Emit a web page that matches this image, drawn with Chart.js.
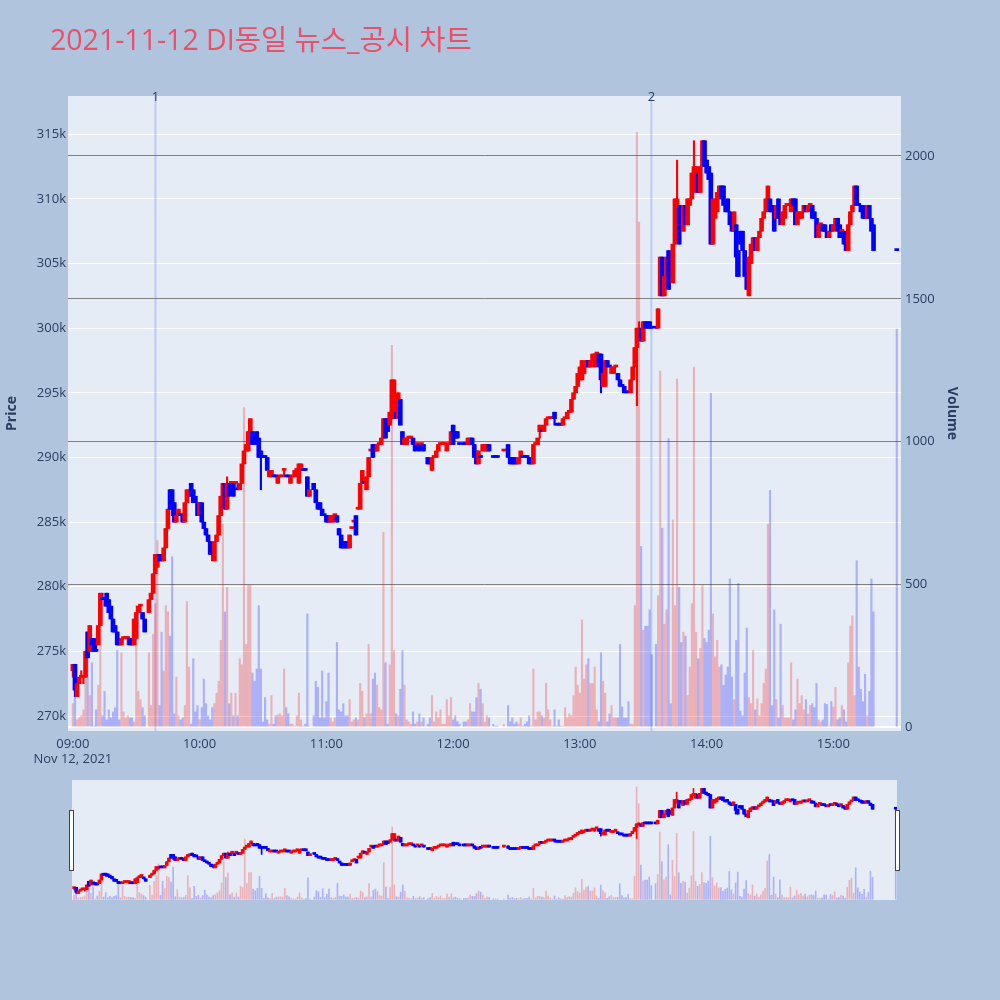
<!DOCTYPE html>
<html>
<head>
<meta charset="utf-8">
<script src="https://cdn.jsdelivr.net/npm/chart.js@4.4.0/dist/chart.umd.min.js"></script>
<style>
  body { margin: 0; width: 1000px; height: 1000px; background: #b0c4de; position: relative; overflow: hidden;
         font-family: "Open Sans", "Noto Sans CJK KR", sans-serif; }
  #main { position: absolute; left: 0; top: 0; }
  #slider { position: absolute; left: 72px; top: 780px; background: #e5ecf6; }
  #title { position: absolute; left: 50px; top: 25px; font-size: 28.5px; line-height: 28.5px; color: #eb5069; white-space: nowrap; }
  .handle { position: absolute; top: 810px; width: 3px; height: 59px; background: #fff; border: 1px solid #444; }
</style>
</head>
<body>
<canvas id="main" width="1000" height="780"></canvas>
<canvas id="slider" width="825" height="120"></canvas>
<div class="handle" style="left:69px"></div>
<div class="handle" style="left:895px"></div>
<div id="title">2021-11-12 DI동일 뉴스_공시 차트</div>
<script>
// 1분봉 (가격 단위: 천원)
const times = [
  '09:00','09:01','09:02','09:03','09:04','09:05','09:06','09:07','09:08','09:09',
  '09:10','09:11','09:12','09:13','09:14','09:15','09:16','09:17','09:18','09:19',
  '09:20','09:21','09:22','09:23','09:24','09:25','09:26','09:27','09:28','09:29',
  '09:30','09:31','09:32','09:33','09:34','09:36','09:37','09:38','09:39',
  '09:40','09:41','09:42','09:43','09:44','09:45','09:46','09:47','09:48','09:49',
  '09:50','09:51','09:52','09:53','09:54','09:55','09:56','09:57','09:58','09:59',
  '10:00','10:01','10:02','10:03','10:04','10:05','10:06','10:07','10:08','10:09',
  '10:10','10:11','10:12','10:13','10:14','10:15','10:16','10:17','10:18','10:19',
  '10:20','10:21','10:22','10:23','10:24','10:25','10:26','10:27','10:28','10:29',
  '10:30','10:31','10:32','10:33','10:34','10:35','10:36','10:37','10:38','10:39',
  '10:40','10:41','10:42','10:43','10:44','10:45','10:46','10:47','10:48','10:49',
  '10:50','10:51','10:52','10:54','10:55','10:56','10:57','10:58','10:59',
  '11:00','11:01','11:02','11:03','11:04','11:05','11:06','11:07','11:08','11:09',
  '11:10','11:11','11:12','11:13','11:14','11:15','11:16','11:17','11:18','11:19',
  '11:20','11:21','11:22','11:23','11:24','11:25','11:26','11:27','11:28','11:29',
  '11:30','11:31','11:32','11:33','11:34','11:35','11:36','11:37','11:38','11:39',
  '11:40','11:41','11:42','11:43','11:44','11:45','11:46','11:48','11:49',
  '11:50','11:51','11:52','11:53','11:54','11:55','11:56','11:57','11:58','11:59',
  '12:00','12:01','12:02','12:03','12:05','12:06','12:07','12:08','12:09',
  '12:10','12:11','12:12','12:13','12:14','12:15','12:16','12:17','12:19',
  '12:20','12:21','12:24','12:26','12:27','12:28','12:29',
  '12:30','12:31','12:32','12:33','12:34','12:35','12:36','12:37','12:38','12:39',
  '12:40','12:41','12:42','12:43','12:44','12:45','12:46','12:47','12:48','12:49',
  '12:50','12:51','12:52','12:53','12:54','12:55','12:56','12:57','12:58','12:59',
  '13:00','13:01','13:02','13:03','13:04','13:05','13:06','13:07','13:08','13:09',
  '13:10','13:11','13:12','13:13','13:14','13:15','13:16','13:17','13:18','13:19',
  '13:20','13:21','13:22','13:23','13:24','13:25','13:26','13:27','13:28','13:29',
  '13:30','13:31','13:32','13:33','13:34','13:36','13:37','13:38','13:39',
  '13:40','13:41','13:42','13:43','13:44','13:45','13:46','13:47','13:48','13:49',
  '13:50','13:51','13:52','13:53','13:54','13:55','13:56','13:57','13:58','13:59',
  '14:00','14:01','14:02','14:03','14:04','14:05','14:06','14:07','14:08','14:09',
  '14:10','14:11','14:12','14:13','14:14','14:15','14:16','14:17','14:18','14:19',
  '14:20','14:21','14:22','14:23','14:24','14:25','14:26','14:27','14:28','14:29',
  '14:30','14:31','14:32','14:33','14:34','14:35','14:36','14:37','14:38','14:39',
  '14:40','14:41','14:42','14:43','14:44','14:45','14:46','14:47','14:48','14:49',
  '14:50','14:51','14:52','14:53','14:54','14:55','14:56','14:57','14:58','14:59',
  '15:00','15:01','15:02','15:03','15:04','15:05','15:06','15:07','15:08','15:09',
  '15:10','15:11','15:12','15:13','15:14','15:15','15:16','15:17','15:18','15:19','15:30'
];
const opens = [
  273.5,274,271.5,272.5,273,273,273,276.5,275,276,
  276,275,275.5,277,279,279,279.5,279,278.5,277.5,
  277,276.5,276,275.5,276,276,276,276,276,275.5,
  276,278,278.5,278,277.5,278,279,279.5,281,
  281.5,282.5,282.5,282,283,284.5,287.5,287.5,286.5,285,
  285.5,285.5,285.5,285,286.5,287,288,287.5,287,286.5,
  285.5,286.5,285,284.5,284,283.5,283,282,283.5,284,
  285.5,287,288,286,288,288,288,288,287.5,287.5,
  288,289.5,290.5,290.5,292,292,291.5,292,291.5,290.5,
  290,290,290,288.5,288.5,288.5,288.5,288,288.5,288.5,
  289,288.5,288.5,288,288.5,288.5,289,288,289,289,
  289,288.5,287,288,287.5,286.5,286.5,286,285.5,
  285.5,285.5,285,285,285.5,285.5,284.5,284,283.5,283.5,
  283,283,284.5,285,285.5,286,286,288,288,287.5,
  288.5,290.5,291,291,290.5,291,291,291.5,293,293,
  292.5,293.5,293,293.5,293,294.5,292,291,291,291.5,
  291.5,291.5,291,291,291,291,291,290,289.5,
  289,290,290,290.5,291,291,291,290.5,291,291,
  292.5,292,292,291,291,291,291,291,291.5,
  291,290.5,289.5,290,290.5,290.5,290.5,291,290,
  290,290,290.5,291,290,290,290,
  289.5,289.5,290,290,290,290,290,289.5,289.5,291,
  291,292,292,292,292.5,293,293,293,293.5,292.5,
  292.5,292.5,292.5,293,293,293.5,293.5,294.5,295,295.5,
  296,296,296.5,297,297.5,297,297.5,297,298,298,
  298,295.5,295.5,297.5,297,296.5,296.5,297,296.5,296,
  295.5,295.5,295,295,295,296,297,298.5,299.5,300,
  299,300.5,300.5,300.5,300,300,300,302.5,305.5,
  302.5,304,306,305.5,303.5,306.5,308.5,309.5,309.5,307.5,
  309.5,308,309.5,310,311.5,310.5,312,310.5,312.5,314.5,
  313,312.5,312,306.5,308.5,309,310,311,311,309.5,
  310,309,308.5,307.5,308,306,307.5,307.5,306,304,
  302.5,305,306,307,306,307,307.5,308.5,309,309.5,
  310,309.5,309.5,308.5,310,308.5,308,308.5,309.5,309.5,
  309,310,310,308,308.5,308.5,309,309.5,309,309.5,
  309.5,309,308.5,307,308,308,308,307.5,307,308,
  307.5,308,308.5,308,307.5,307.5,307,306,308,309,
  309.5,311,309.5,309.5,309.5,309,308.5,309.5,308.5,308,306
];
const closes = [
  274,272,272.5,273,273,273,275,274.5,277,275.5,
  275,275,277,279.5,279,279,278.5,278,277.5,276.5,
  276.5,275.5,275.5,276,276,276,276,275.5,275.5,277.5,
  278,278.5,278.5,277.5,276.5,279,279.5,281,282.5,
  282.5,282,282,283,284.5,286,286,286,285,285.5,
  286,285.5,285,286.5,287.5,287.5,287,286.5,286.5,285.5,
  286.5,285,284.5,284,283.5,282.5,282.5,283.5,284,285.5,
  287,288,286,288,287,288,287,288,287.5,288,
  289.5,290.5,291,292,293,291,291,291,290,290,
  290,290,289,289,289,288.5,288.5,288.5,288.5,288.5,
  289,288.5,288.5,288.5,288.5,289,289,289.5,289.5,289,
  289,287,287.5,287.5,286.5,286,286,285.5,285.5,
  285,285,285.5,285.5,285.5,285,284,283,283,283,
  283,284,284.5,285,284,286,288,289,288,288.5,
  290,290.5,290,290.5,291,291,291.5,293,291.5,292,
  293.5,296,296,293,295,292.5,291,291.5,291.5,291.5,
  291.5,291,290.5,291,290.5,291,290.5,289.5,289.5,
  290,290,290.5,291,291,291,291,291,291,292,
  291,291.5,291.5,291,291,291,291.5,291.5,291,
  290,289.5,290.5,290,291,291,291,290.5,290,
  290,290,290.5,290,289.5,289.5,289.5,
  289.5,290,290.5,290,290,290,289.5,289.5,291,291,
  291.5,292.5,292,292.5,293,293,293,293,293,292.5,
  292.5,292.5,293,293,293.5,293.5,294.5,295,295.5,296.5,
  297,297.5,297,297.5,297,297.5,298,298,298,297,
  296,296.5,297.5,297,297,297,297,297,296,295.5,
  295.5,295,295,295,296,297,298.5,300,300,299,
  300.5,300,300,300,300,300,301.5,305.5,302.5,
  304,305.5,303,304,306.5,310,310,306.5,308.5,309.5,
  308,310,310,312,312.5,312.5,310.5,312.5,314.5,312.5,
  312,311.5,306.5,310,310,310.5,311,310,309.5,309,
  309,308,307.5,309,305.5,304,306.5,306,304,303,
  305.5,306.5,307,306,307,307.5,308.5,309,310,311,
  309,309,307.5,309.5,308.5,308,309,309.5,309.5,309.5,
  310,309.5,308,309,309,309,309.5,309,309.5,309.5,
  308.5,308.5,307,308,308,307.5,307.5,307,307.5,307.5,
  308,308.5,307.5,307,307.5,306.5,306,308,309,309.5,
  311,309.5,309.5,309,308.5,308.5,309.5,308.5,307.5,306,306
];
const highs = [
  274,274,272.5,273,273.5,273,275,276.5,277,276,
  276,275.5,277,279.5,279.5,279,279.5,279,278.5,277.5,
  277,276.5,276,276,276,276,276,276,276,277.5,
  278,278.5,278.5,278,277.5,279,279.5,281,282.5,
  282.5,282.5,282.5,283,284.5,286,287.5,287.5,286.5,285.5,
  286,285.5,285.5,286.5,287.5,287.5,288,287.5,287,286.5,
  286.5,286.5,285,284.5,284,283.5,283,283.5,284,285.5,
  287,288,288,288.5,288,288,288,288,288,288,
  289.5,290.5,291,292,293,292,291.5,292,291.5,290.5,
  290,290,290,289,289,288.5,288.5,288.5,288.5,288.5,
  289,288.5,288.5,288.5,288.5,289,289,289.5,289.5,289,
  289,288.5,287.5,288,287.5,286.5,286.5,286,285.5,
  285.5,285.5,285.5,285.5,285.5,285.5,284.5,284,283.5,283.5,
  283.5,284,284.5,285,285.5,286,288,289,288,288.5,
  290,290.5,291,291,291,291,291.5,293,293,293,
  293.5,296,296,293.5,295,294.5,292,291.5,291.5,291.5,
  291.5,291.5,291,291,291,291,291,290,289.5,
  290,290,290.5,291,291,291,291,291,291,292,
  292.5,292,292,291,291,291,291.5,291.5,291.5,
  291,290.5,290.5,290,291,291,291,291,290,
  290,290,290.5,291,290,290,290,
  289.5,290,290.5,290,290,290,290,289.5,291,291,
  291.5,292.5,292,292.5,293,293,293,293,293.5,292.5,
  292.5,292.5,293,293,293.5,293.5,294.5,295,295.5,296.5,
  297,297.5,297,297.5,297.5,297.5,298,298,298,298,
  298,296.5,297.5,297.5,297,297,297,297,296.5,296,
  295.5,295.5,295,295,296,297,298.5,300,300.5,300,
  300.5,300.5,300.5,300.5,300,300,301.5,305.5,305.5,
  304,305.5,306,305.5,306.5,310,313,309.5,309.5,309.5,
  309.5,310,310,312,314.5,312.5,312,312.5,314.5,314.5,
  313,312.5,312,310,310,310.5,311,311,311,309.5,
  310,309,308.5,309,308,306,307.5,307.5,306,304,
  305.5,306.5,307,307,307,307.5,308.5,309,310,311,
  310,309.5,309.5,309.5,310,308.5,309,309.5,309.5,309.5,
  310,310,310,309,309,309,309.5,309.5,309.5,309.5,
  309.5,309,308.5,308,308,308,308,307.5,307.5,308,
  308,308.5,308.5,308,307.5,307.5,307,308,309,309.5,
  311,311,309.5,309.5,309.5,309,309.5,309.5,308.5,308,306
];
const lows = [
  273,271.5,271.5,272.5,273,272.5,273,274.5,275,275,
  275,275,275.5,277,279,278.5,278.5,278,277.5,276.5,
  276.5,275.5,275.5,275.5,276,276,275.5,275.5,275.5,275.5,
  276,278,278,277.5,276.5,278,279,279.5,281,
  281.5,282,282,282,283,284.5,286,285.5,285,285,
  285.5,285.5,285,285,286.5,287,287,286.5,286.5,285.5,
  285.5,285,284.5,284,283.5,282.5,282,282,283.5,284,
  285.5,287,286,286,287,288,287,288,287.5,287.5,
  288,289.5,290.5,290.5,292,291,291,291,290,287.5,
  290,290,289,288.5,288.5,288.5,288.5,288,288.5,288.5,
  288.5,288.5,288.5,288,288.5,288.5,289,288,289,289,
  289,287,287,287.5,286.5,286,286,285.5,285.5,
  285,285,285,285,285.5,285,284,283,283,283,
  283,283,284.5,285,284,286,286,288,288,287.5,
  288.5,290.5,290,290.5,290.5,291,291,291.5,291.5,292,
  292.5,293.5,293,293,293,292.5,291,291,291,291.5,
  291.5,291,290.5,291,290.5,291,290.5,289.5,289.5,
  289,290,290,290.5,291,291,291,290.5,291,291,
  291,291.5,291.5,291,291,291,291,291,291,
  290,289.5,289.5,290,290.5,290.5,290.5,290.5,290,
  290,290,290.5,290,289.5,289.5,289.5,
  289.5,289.5,290,290,290,290,289.5,289.5,289.5,291,
  291,291.5,292,292,292.5,293,293,293,292.5,292.5,
  292.5,292.5,292.5,293,293,293.5,293.5,294.5,295,295.5,
  296,296,296.5,297,297,297,297.5,297,298,297,
  295,295.5,295.5,297,297,296.5,296.5,297,296,295.5,
  295.5,295,295,295,295,296,297,294,299.5,299,
  299,300,300,300,300,300,300,302.5,302.5,
  302.5,304,303,304,303.5,306.5,308.5,306.5,308.5,307.5,
  308,308,309.5,310,311.5,310.5,310.5,310.5,312.5,312.5,
  312,311.5,306.5,306.5,308.5,309,310,310,309.5,309,
  309,308,307.5,307.5,304,304,306.5,306,304,303,
  302.5,305,306,306,306,307,307.5,308.5,309,309.5,
  309,309,307.5,308.5,308.5,308,308,308.5,309.5,309.5,
  309,309.5,308,308,308.5,308.5,309,309,309,309.5,
  308.5,308.5,307,307,308,307.5,307.5,307,307,307.5,
  307.5,308,307.5,307,307.5,306.5,306,306,308,309,
  309.5,309.5,309.5,309,308.5,308.5,308.5,308.5,307.5,306,306
];
const volumes = [
  83,111,26,33,40,61,269,326,111,226,
  4,61,147,440,40,126,26,61,33,54,
  69,269,26,261,54,33,40,33,33,19,
  426,126,97,69,40,261,76,326,433,
  654,76,333,197,426,404,319,597,47,176,
  40,26,33,76,440,211,11,240,54,76,
  26,69,169,83,40,26,69,83,119,161,
  304,711,404,490,83,119,40,119,40,240,
  219,1119,290,497,497,190,161,204,426,204,
  19,104,26,11,111,11,40,43,47,40,
  204,69,47,11,11,4,40,119,26,4,
  11,397,4,40,161,140,33,197,33,
  90,190,33,19,33,297,61,54,83,40,
  40,97,19,26,33,26,154,126,33,47,
  290,47,169,190,147,69,61,683,226,11,
  219,1337,269,47,40,133,269,147,26,19,
  11,54,11,19,47,19,33,11,33,
  111,19,54,33,61,11,11,97,40,104,
  26,40,20,10,19,19,26,83,54,
  54,104,154,133,83,19,40,33,10,
  4,4,10,76,20,33,11,
  19,11,33,4,11,19,40,4,204,26,
  54,54,40,33,154,61,26,4,61,4,
  26,4,4,69,33,47,40,111,211,147,
  119,376,169,219,240,154,154,211,61,19,
  261,161,119,19,47,76,33,33,33,290,
  71,33,33,90,11,11,426,2083,1769,633,
  340,354,354,411,254,290,461,1247,697,
  361,411,1011,83,726,426,1219,490,297,333,
  319,111,211,433,1261,333,240,276,497,311,
  297,340,1169,397,247,304,211,219,147,183,
  211,519,176,97,304,504,57,40,190,347,
  104,83,269,61,100,40,83,154,204,711,
  829,76,411,97,33,361,76,33,33,33,
  226,26,61,169,83,111,61,97,47,76,
  83,69,154,26,19,26,83,80,4,90,
  71,140,26,33,76,61,19,226,354,390,
  111,583,211,133,90,186,40,126,519,404,1394
];

// 뉴스/공시 표시
const eventTimes = ['09:39:05', '13:33:50'];
const eventLabels = ['1', '2'];

// 축 눈금
const xTickLabels = ['09:00','10:00','11:00','12:00','13:00','14:00','15:00'];
const dateLabel = 'Nov 12, 2021';
const priceTicks = [270, 275, 280, 285, 290, 295, 300, 305, 310, 315];
const volumeTicks = [0, 500, 1000, 1500, 2000];

const UP = '#ff0000', DOWN = '#0000ff';
const UP_VOL = 'rgba(255,0,0,0.25)', DOWN_VOL = 'rgba(0,0,255,0.25)';
const TEXT = '#2a3f5f';
Chart.defaults.font.family = '"Open Sans", "Noto Sans CJK KR", sans-serif';

const toMin = t => {
  const [h, m, s] = t.split(':').map(Number);
  return (h - 9) * 60 + m + (s || 0) / 60;
};

// 보합봉은 직전 종가와 비교해서 색을 정함
const dirs = [];
closes.forEach((c, i) => {
  const o = opens[i];
  let d;
  if (c > o) d = 1;
  else if (c < o) d = -1;
  else if (i > 0 && c > closes[i - 1]) d = 1;
  else if (i > 0 && c < closes[i - 1]) d = -1;
  else d = i > 0 ? dirs[i - 1] : 1;
  dirs.push(d);
});
const candleColors = dirs.map(d => d > 0 ? UP : DOWN);
const volColors = dirs.map(d => d > 0 ? UP_VOL : DOWN_VOL);

const bodies = times.map((t, i) => ({ x: toMin(t), y: [opens[i], closes[i]] }));
const wicks = times.map((t, i) => ({ x: toMin(t), y: [lows[i], highs[i]] }));
const vols = times.map((t, i) => ({ x: toMin(t), y: volumes[i] }));

function makeDatasets(bodyW, wickW, volW) {
  return [
    { data: bodies, backgroundColor: candleColors, barThickness: bodyW, minBarLength: 2, yAxisID: 'y', order: 1, grouped: false },
    { data: wicks, backgroundColor: candleColors, barThickness: wickW, yAxisID: 'y', order: 2, grouped: false },
    { data: vols, backgroundColor: volColors, barThickness: volW, yAxisID: 'y1', order: 3, grouped: false }
  ];
}

const plotBg = {
  id: 'plotBg',
  beforeDraw(chart) {
    const { ctx, chartArea: a } = chart;
    ctx.save();
    ctx.fillStyle = '#e5ecf6';
    ctx.fillRect(a.left, a.top, a.right - a.left, a.bottom - a.top);
    ctx.restore();
  }
};

const eventLines = {
  id: 'eventLines',
  beforeDatasetsDraw(chart) {
    const { ctx, chartArea: a, scales } = chart;
    ctx.save();
    eventTimes.forEach((t, i) => {
      const px = scales.x.getPixelForValue(toMin(t));
      ctx.strokeStyle = 'rgba(99,120,240,0.3)';
      ctx.lineWidth = 2;
      ctx.beginPath();
      ctx.moveTo(px, a.top);
      ctx.lineTo(px, a.bottom);
      ctx.stroke();
      ctx.fillStyle = TEXT;
      ctx.font = '13px "Open Sans"';
      ctx.textAlign = 'center';
      ctx.textBaseline = 'middle';
      ctx.fillText(eventLabels[i], px, a.top + 1);
    });
    ctx.restore();
  }
};

const tickFont = { size: 13 };

new Chart(document.getElementById('main'), {
  type: 'bar',
  data: { datasets: makeDatasets(4, 1.5, 1.5) },
  options: {
    responsive: false,
    animation: false,
    events: [],
    layout: { padding: { top: 96, right: 36, left: 0, bottom: 0 } },
    plugins: { legend: { display: false }, tooltip: { enabled: false } },
    scales: {
      x: {
        type: 'linear', min: -2.3, max: 392, offset: false,
        grid: { display: false, drawTicks: false },
        border: { display: false },
        afterBuildTicks: s => { s.ticks = xTickLabels.map(t => ({ value: toMin(t) })); },
        ticks: {
          autoSkip: false, maxRotation: 0, padding: 5, color: TEXT, font: tickFont,
          callback: (v, i) => i === 0 ? [xTickLabels[i], dateLabel] : xTickLabels[i]
        },
        afterFit: s => { s.height = 49; }
      },
      y: {
        position: 'left', min: 268.84, max: 317.96,
        grid: { color: '#ffffff', lineWidth: 1, drawTicks: false },
        border: { display: false },
        afterBuildTicks: s => { s.ticks = priceTicks.map(v => ({ value: v })); },
        ticks: { autoSkip: false, padding: 2, color: TEXT, font: tickFont, callback: v => v + 'k' },
        title: { display: true, text: 'Price', color: TEXT, font: { size: 14, weight: 'bold' } },
        afterFit: s => { s.width = 68; }
      },
      y1: {
        position: 'right', min: -13, max: 2210,
        grid: {
          color: c => c.tick && c.tick.value === 0 ? '#ffffff' : '#808080',
          lineWidth: c => c.tick && c.tick.value === 0 ? 2 : 1,
          drawTicks: false
        },
        border: { display: false },
        afterBuildTicks: s => { s.ticks = volumeTicks.map(v => ({ value: v })); },
        ticks: { autoSkip: false, padding: 4, color: TEXT, font: tickFont, callback: v => String(v) },
        title: { display: true, text: 'Volume', color: TEXT, font: { size: 14, weight: 'bold' } },
        afterFit: s => { s.width = 63; }
      }
    }
  },
  plugins: [plotBg, eventLines]
});

// 하단 레인지 슬라이더
new Chart(document.getElementById('slider'), {
  type: 'bar',
  data: { datasets: makeDatasets(3, 1, 1) },
  options: {
    responsive: false,
    animation: false,
    events: [],
    layout: { padding: 0 },
    plugins: { legend: { display: false }, tooltip: { enabled: false } },
    scales: {
      x: { type: 'linear', min: -1, max: 390.6, offset: false, display: false },
      y: { min: 268.84, max: 317.96, display: false },
      y1: { min: -13, max: 2210, display: false }
    }
  }
});
</script>
</body>
</html>
